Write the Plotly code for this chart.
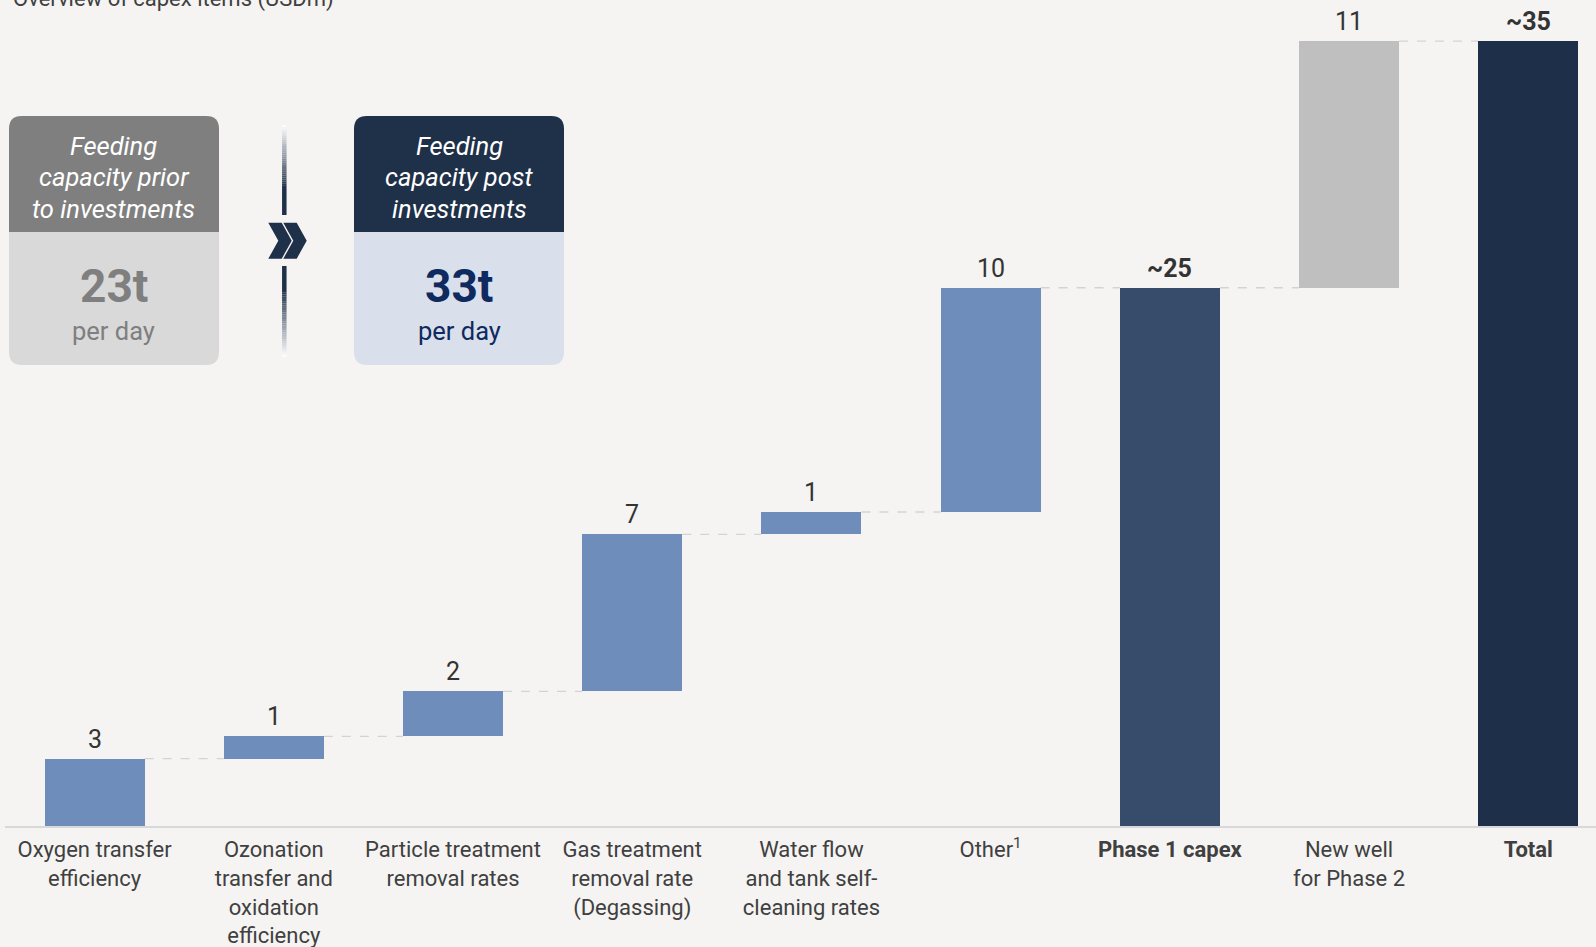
import plotly.graph_objects as go

# ---- data -------------------------------------------------------------
categories = [
    "Oxygen transfer efficiency",
    "Ozonation transfer and oxidation efficiency",
    "Particle treatment removal rates",
    "Gas treatment removal rate (Degassing)",
    "Water flow and tank self-cleaning rates",
    "Other",
    "Phase 1 capex",
    "New well for Phase 2",
    "Total",
]
tick_labels = [
    "Oxygen transfer<br>efficiency",
    "Ozonation<br>transfer and<br>oxidation<br>efficiency",
    "Particle treatment<br>removal rates",
    "Gas treatment<br>removal rate<br>(Degassing)",
    "Water flow<br>and tank self-<br>cleaning rates",
    "Other<sup>1</sup>",
    "<b>Phase 1 capex</b>",
    "New well<br>for Phase 2",
    "<b>Total</b>",
]
phase1_items = [3, 1, 2, 7, 1, 10]     # USDm
phase2_items = [11]                    # USDm
subtotal_labels = ["~25", "~35"]

capacity_before = "23t"
capacity_after = "33t"
card_title_before = ["Feeding", "capacity prior", "to investments"]
card_title_after = ["Feeding", "capacity post", "investments"]

# ---- derived waterfall geometry ---------------------------------------
phase1_total = sum(phase1_items)
grand_total = phase1_total + sum(phase2_items)

bases, heights, colors, labels, bold = [], [], [], [], []
running = 0
for v in phase1_items:
    bases.append(running); heights.append(v); colors.append("#6E8DBA")
    labels.append(str(v)); bold.append(False)
    running += v
bases.append(0); heights.append(phase1_total); colors.append("#374B6A")
labels.append(subtotal_labels[0]); bold.append(True)
for v in phase2_items:
    bases.append(running); heights.append(v); colors.append("#BFBFBF")
    labels.append(str(v)); bold.append(False)
    running += v
bases.append(0); heights.append(grand_total); colors.append("#1E3049")
labels.append(subtotal_labels[1]); bold.append(True)
tops = [b + h for b, h in zip(bases, heights)]

# ---- page geometry ----------------------------------------------------
W, H = 1596, 947
ML, MR, MT, MB = 5, 0, 0, 121
PW, PH = W - ML - MR, H - MT - MB
BAR_W = 0.558
Y_MAX = 36.83
BG = "#F5F4F2"
NAVY = "#1F3049"
FONT = "Roboto"


def px(x):
    return (x - ML) / PW


def py(y):
    return (MT + PH - y) / PH


fig = go.Figure()
fig.add_trace(go.Bar(
    x=categories, y=heights, base=bases, width=BAR_W,
    marker=dict(color=colors, line=dict(width=0)),
    hoverinfo="skip", showlegend=False,
))

shapes = []
annotations = []

# dashed connectors between consecutive bar tops
for i in range(len(categories) - 1):
    shapes.append(dict(
        type="line", xref="x", yref="y",
        x0=i + BAR_W / 2, x1=i + 1 - BAR_W / 2, y0=tops[i], y1=tops[i],
        line=dict(color="#D3D3D3", width=1.3, dash="dash"), layer="below",
    ))

# value labels above the bars
for i, (c, t) in enumerate(zip(categories, tops)):
    txt = f"<b>{labels[i]}</b>" if bold[i] else labels[i]
    annotations.append(dict(
        x=c, y=t, xref="x", yref="y", text=txt, showarrow=False,
        xanchor="center", yanchor="bottom", yshift=3,
        font=dict(family=FONT, size=25, color="#333333"),
    ))

# chart title (runs off the top edge of the page)
annotations.append(dict(
    x=px(11), y=py(0), xref="paper", yref="paper", xanchor="left",
    yanchor="bottom", yshift=-14, showarrow=False,
    text="Overview of capex items (USDm)",
    font=dict(family=FONT, size=22, color="#404040"),
))


def rounded_path(x0, y0, x1, y1, r, top=True, bottom=True):
    rx, ry = r / PW, r / PH
    X0, X1 = px(x0), px(x1)
    Yt, Yb = py(y0), py(y1)
    rt_x, rt_y = (rx, ry) if top else (0, 0)
    rb_x, rb_y = (rx, ry) if bottom else (0, 0)
    return (
        f"M {X0 + rt_x},{Yt} L {X1 - rt_x},{Yt} Q {X1},{Yt} {X1},{Yt - rt_y} "
        f"L {X1},{Yb + rb_y} Q {X1},{Yb} {X1 - rb_x},{Yb} "
        f"L {X0 + rb_x},{Yb} Q {X0},{Yb} {X0},{Yb + rb_y} "
        f"L {X0},{Yt - rt_y} Q {X0},{Yt} {X0 + rt_x},{Yt} Z"
    )


def capacity_card(x0, x1, head_col, body_col, title_lines, value, val_col):
    y0, y_mid, y1 = 116, 232, 365
    shapes.append(dict(type="path", xref="paper", yref="paper",
                       path=rounded_path(x0, y0, x1, y1, 13),
                       fillcolor=body_col, line=dict(width=0)))
    shapes.append(dict(type="path", xref="paper", yref="paper",
                       path=rounded_path(x0, y0, x1, y_mid, 13, bottom=False),
                       fillcolor=head_col, line=dict(width=0)))
    cx = (x0 + x1) / 2
    for k, line in enumerate(title_lines):
        annotations.append(dict(
            x=px(cx), y=py(146 + 31.5 * k), xref="paper", yref="paper",
            showarrow=False, text=line, xanchor="center", yanchor="middle",
            font=dict(family=FONT, size=25.5, color="white", style="italic"),
        ))
    annotations.append(dict(
        x=px(cx), y=py(286), xref="paper", yref="paper", showarrow=False,
        text=f"<b>{value}</b>", xanchor="center", yanchor="middle",
        font=dict(family=FONT, size=46, color=val_col),
    ))
    annotations.append(dict(
        x=px(cx), y=py(331), xref="paper", yref="paper", showarrow=False,
        text="per day", xanchor="center", yanchor="middle",
        font=dict(family=FONT, size=25.5, color=val_col),
    ))


capacity_card(9, 219, "#7F7F7F", "#D9D9D9",
              card_title_before, capacity_before, "#7F7F7F")
capacity_card(354, 564, NAVY, "#DAE0EB",
              card_title_after, capacity_after, "#0E2A5E")


# vertical separator with faded ends
def mix(c1, c2, t):
    a = [int(c1[i:i + 2], 16) for i in (1, 3, 5)]
    b = [int(c2[i:i + 2], 16) for i in (1, 3, 5)]
    return "#" + "".join(f"{round(p + (q - p) * t):02x}" for p, q in zip(a, b))


SEP_X = 284.3


def sep_segment(ya, yb, ta, tb, n):
    for k in range(n):
        s0 = ya + (yb - ya) * k / n
        s1 = ya + (yb - ya) * (k + 1) / n
        t = ta + (tb - ta) * (k + 0.5) / n
        shapes.append(dict(type="line", xref="paper", yref="paper",
                           x0=px(SEP_X), x1=px(SEP_X), y0=py(s0), y1=py(s1),
                           line=dict(color=mix("#FFFFFF", NAVY, t), width=4.5)))


sep_segment(125, 188, 0.0, 1.0, 30)
sep_segment(188, 215, 1.0, 1.0, 1)
sep_segment(266, 290, 1.0, 1.0, 1)
sep_segment(290, 357, 1.0, 0.0, 30)

# double chevron
for dx in (0, 15):
    pts = [(268.3 + dx, 222.7), (281.7 + dx, 222.7), (291.7 + dx, 240.7),
           (281.7 + dx, 258.7), (268.3 + dx, 258.7), (278.3 + dx, 240.7)]
    path = "M " + " L ".join(f"{px(a)},{py(b)}" for a, b in pts) + " Z"
    shapes.append(dict(type="path", xref="paper", yref="paper", path=path,
                       fillcolor=NAVY, line=dict(width=0)))

fig.update_layout(
    width=W, height=H,
    margin=dict(l=ML, r=MR, t=MT, b=MB, pad=0, autoexpand=False),
    paper_bgcolor=BG, plot_bgcolor=BG,
    font=dict(family=FONT, color="#404040"),
    bargap=0,
    shapes=shapes, annotations=annotations,
    xaxis=dict(
        type="category", range=[-0.5, 8.378], automargin=False,
        tickmode="array", tickvals=categories, ticktext=tick_labels,
        tickfont=dict(family=FONT, size=22, color="#404040"),
        showline=True, linecolor="#D6D8DB", linewidth=2,
        showgrid=False, zeroline=False, ticks="", ticklabelstandoff=3,
    ),
    yaxis=dict(range=[0, Y_MAX], visible=False, fixedrange=True),
)

fig.write_html("out.html")
